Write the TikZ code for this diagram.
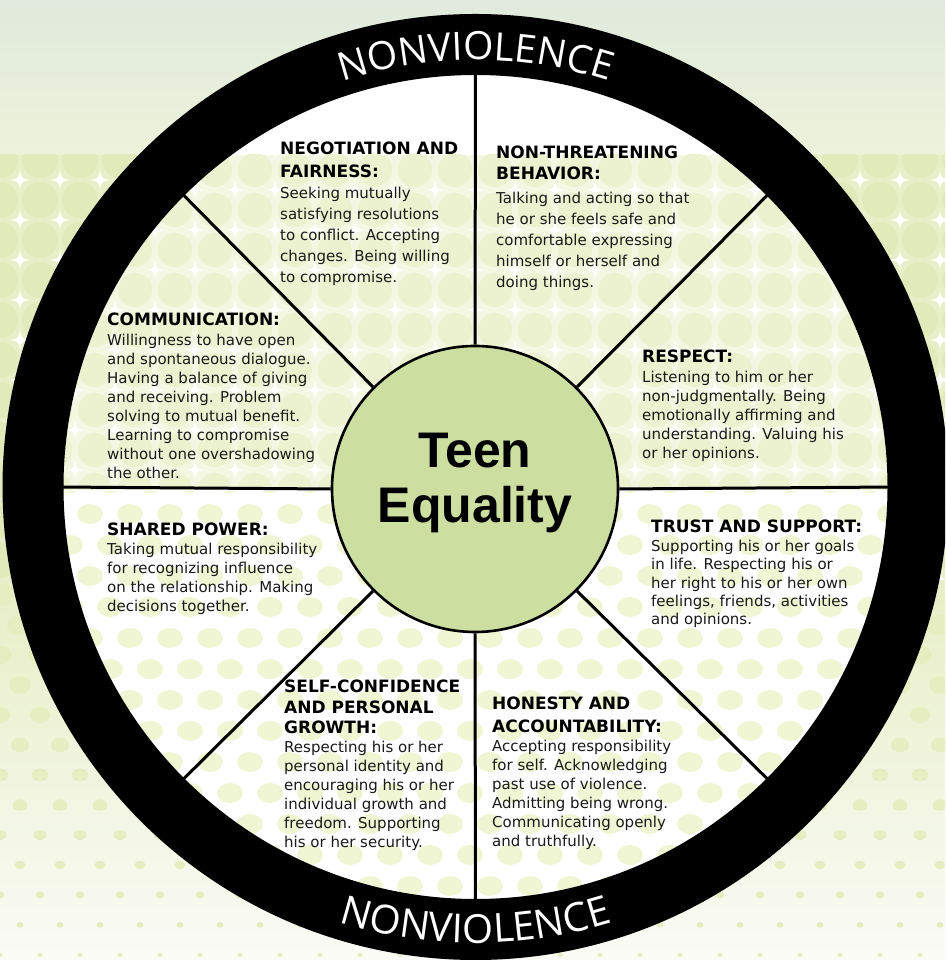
\documentclass[tikz,border=0pt]{standalone}
\usepackage{fontspec}
\setmainfont{DejaVu Sans}
\newfontfamily\teenfont{Liberation Sans}
\newfontfamily\nvfont{Open Sans}
\usetikzlibrary{decorations.text,calc}
\definecolor{hubgreen}{HTML}{CDDFA0}
\definecolor{bodytext}{HTML}{1A1A1A}
\definecolor{topA}{HTML}{E0EADC}
\definecolor{topB}{HTML}{EDF2DA}
\definecolor{bandbg}{HTML}{E8EFC8}
\definecolor{bandcirc}{HTML}{E1EABA}
\definecolor{lowA}{HTML}{E8EFC8}
\definecolor{lowB}{HTML}{FAFBF6}
\definecolor{dotout}{HTML}{E6EDC0}
\definecolor{uppbg}{HTML}{F4F7E1}
\definecolor{uppcirc}{HTML}{ECF2CF}
\definecolor{dotin}{HTML}{F0F5D3}
\newcommand\nvstyle{\nvfont\fontsize{39}{42}\selectfont}
\newcommand\nvstyleb{\nvfont\fontsize{40}{42}\selectfont}
\newcommand\hd[1]{{\bfseries\color{black}\fontsize{17}{19}\selectfont #1}}
\newcommand\sparkat[3]{\fill[white,shift={(#1,#2)},scale=#3] (0,1) .. controls (0.12,0.12) .. (1,0) .. controls (0.12,-0.12) .. (0,-1) .. controls (-0.12,-0.12) .. (-1,0) .. controls (-0.12,0.12) .. (0,1) -- cycle;}
\tikzset{
  txt/.style={anchor=north west, inner sep=0pt, align=left, text=bodytext},
  spoke/.style={line width=3pt, black},
  hubstyle/.style={circle, draw=black, line width=2.6pt, fill=hubgreen, minimum size=286pt, inner sep=0pt},
  nvtop/.style={decorate, decoration={text along path, text={|\nvstyle|NONVIOLENCE}, text align=center, text color=white}},
  nvbottom/.style={decorate, decoration={text along path, text={|\nvstyleb|NONVIOLENCE}, text align=center, text color=white}}
}
\begin{document}
\begin{tikzpicture}[x=1pt,y=1pt]
\useasboundingbox (0,0) rectangle (945,960);
\clip (0,0) rectangle (945,960);
\coordinate (C) at (475.5,473);
% ---------- background outside the wheel
\shade[top color=lowA, bottom color=lowB] (0,0) rectangle (945,362);
\fill[bandbg] (0,360) rectangle (945,805);
\shade[top color=topA, bottom color=topB] (0,805) rectangle (945,960);
\begin{scope}
  \clip (0,380) rectangle (945,805);
  \foreach \i in {0,...,24} {
    \foreach \j in {0,...,11} {
      \fill[bandcirc] (40*\i,360+40*\j) circle[radius=18pt];
    }
  }
  \foreach \i in {0,...,24} {
    \foreach \j in {0,...,11} {
      \sparkat{40*\i+20}{380+40*\j}{11}
    }
  }
\end{scope}
\foreach \i in {0,...,24} {
  \foreach \j in {0,...,12} {
    \pgfmathsetmacro\xx{40*\i+20*mod(\j,2)}
    \pgfmathsetmacro\yy{30*\j+5}
    \pgfmathsetmacro\rr{2+0.026*\yy}
    \fill[dotout] (\xx,\yy) ellipse[x radius=1.2*\rr pt, y radius=0.95*\rr pt];
  }
}
% ---------- inside of the wheel
\fill[white] (C) circle[radius=414pt];
\begin{scope}
  \clip (C) circle[radius=414pt];
  \begin{scope}
    \clip (0,470) rectangle (945,805);
    \fill[uppbg] (0,470) rectangle (945,805);
    \foreach \i in {0,...,24} {
      \foreach \j in {0,...,8} {
        \fill[uppcirc] (40*\i+15,470+40*\j) circle[radius=17pt];
      }
    }
    \foreach \i in {0,...,24} {
      \foreach \j in {0,...,8} {
        \sparkat{40*\i+35}{490+40*\j}{10}
      }
    }
  \end{scope}
  \begin{scope}
    \clip (0,0) rectangle (945,468);
    \foreach \i in {0,...,24} {
      \foreach \j in {0,...,15} {
        \pgfmathsetmacro\xx{40*\i+20*mod(\j,2)+10}
        \pgfmathsetmacro\yy{12+31*\j}
        \fill[dotin] (\xx,\yy) ellipse[x radius=13pt, y radius=10pt];
      }
    }
  \end{scope}
\end{scope}
% ---------- hub, spokes, ring
\node[hubstyle] (hub) at (475,471) {};
\foreach \a in {0,45,...,315} {
  \coordinate (s\a) at ($(C)+(\a:420pt)$);
  \draw[spoke] (hub.\a) -- (s\a);
}
\fill[black, even odd rule] (C) circle[radius=473pt] (C) circle[radius=412pt];
\node[font=\teenfont\bfseries\fontsize{50}{55}\selectfont, align=center, inner sep=0pt] (teen) at (475,477.3) {Teen\\Equality};
\path[nvtop] ($(C)+(150:427pt)$) arc[start angle=150, end angle=30, radius=427pt];
\path[nvbottom] ($(C)+(207:456pt)$) arc[start angle=207, end angle=333, radius=456pt];
% ---------- segment texts
\node[txt, font=\fontsize{15}{21}\selectfont] (neg) at (280,818) {\hd{NEGOTIATION AND}\\[2pt]\hd{FAIRNESS:}\\Seeking mutually\\satisfying resolutions\\to conflict. Accepting\\changes. Being willing\\to compromise.};
\node[txt, font=\fontsize{15}{21}\selectfont] (nonthr) at (496,814) {\hd{NON-THREATENING}\\\hd{BEHAVIOR:}\\[3pt]Talking and acting so that\\he or she feels safe and\\comfortable expressing\\himself or herself and\\doing things.};
\node[txt, font=\fontsize{15}{19}\selectfont] (comm) at (107,647) {\hd{COMMUNICATION:}\\[1pt]Willingness to have open\\and spontaneous dialogue.\\Having a balance of giving\\and receiving. Problem\\solving to mutual benefit.\\Learning to compromise\\without one overshadowing\\the other.};
\node[txt, font=\fontsize{15}{19}\selectfont] (shared) at (107,437) {\hd{SHARED POWER:}\\Taking mutual responsibility\\for recognizing influence\\on the relationship. Making\\decisions together.};
\node[txt, font=\fontsize{15}{19}\selectfont] (respect) at (642,610) {\hd{RESPECT:}\\[1pt]Listening to him or her\\non-judgmentally. Being\\emotionally affirming and\\understanding. Valuing his\\or her opinions.};
\node[txt, font=\fontsize{15}{18.4}\selectfont] (trust) at (651,440) {\hd{TRUST AND SUPPORT:}\\Supporting his or her goals\\in life. Respecting his or\\her right to his or her own\\feelings, friends, activities\\and opinions.};
\node[txt, font=\fontsize{15}{19}\selectfont] (self) at (284,280) {\hd{SELF-CONFIDENCE}\\[2pt]\hd{AND PERSONAL}\\[1pt]\hd{GROWTH:}\\Respecting his or her\\personal identity and\\encouraging his or her\\individual growth and\\freedom. Supporting\\his or her security.};
\node[txt, font=\fontsize{15}{19}\selectfont] (honesty) at (492,263) {\hd{HONESTY AND}\\[4pt]\hd{ACCOUNTABILITY:}\\Accepting responsibility\\for self. Acknowledging\\past use of violence.\\Admitting being wrong.\\Communicating openly\\and truthfully.};
\end{tikzpicture}
\end{document}
